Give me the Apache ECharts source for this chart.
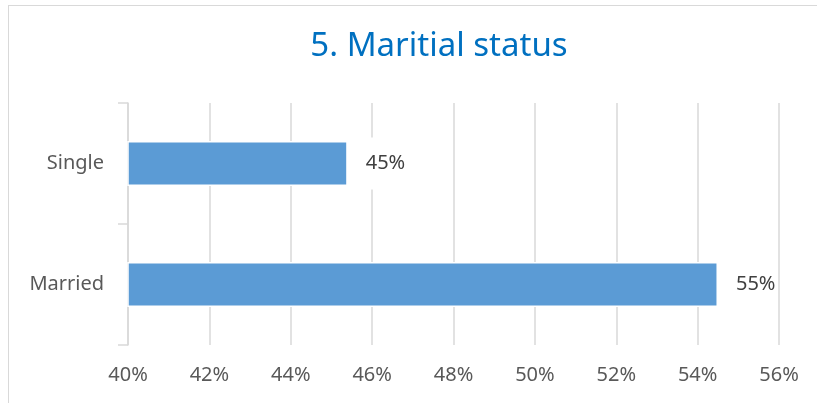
<!DOCTYPE html>
<html>
<head>
<meta charset="utf-8">
<script src="https://cdn.jsdelivr.net/npm/echarts@6/dist/echarts.min.js"></script>
<style>
  html, body { margin: 0; padding: 0; background: #fff; }
  #frame { position: absolute; left: 8px; top: 5px; width: 900px; height: 420px; border: 1px solid #d9d9d9; box-sizing: border-box; }
  #main { position: absolute; left: 0; top: 0; width: 817px; height: 403px; }
</style>
</head>
<body>
<div id="frame"></div>
<div id="main"></div>
<script>
// categories, bottom to top
var categories = ['Married', 'Single'];
var shares = [54.5, 45.4];
var axisMin = 40, axisMax = 56, axisStep = 2;

var chartDom = document.getElementById('main');
var myChart = echarts.init(chartDom);
var option;

option = {
  title: {
    text: '5. Maritial status',
    left: 434,
    top: 25,
    textAlign: 'center',
    textStyle: {
      color: '#0070c0',
      fontFamily: 'Noto Sans',
      fontSize: 33,
      fontWeight: 'normal'
    }
  },
  grid: {
    left: 128,
    right: 38,
    top: 103,
    bottom: 58
  },
  xAxis: {
    type: 'value',
    min: axisMin,
    max: axisMax,
    interval: axisStep,
    axisLine: { show: false },
    axisTick: { show: false },
    splitLine: { lineStyle: { color: '#d9d9d9', width: 1.5 } },
    axisLabel: {
      formatter: '{value}%',
      margin: 20,
      color: '#595959',
      fontFamily: 'Noto Sans',
      fontSize: 20
    }
  },
  yAxis: {
    type: 'category',
    data: categories,
    axisLine: { show: true, lineStyle: { color: '#d9d9d9', width: 1.5 } },
    axisTick: { show: true, length: 10, lineStyle: { color: '#d9d9d9', width: 1.5 } },
    axisLabel: {
      margin: 24,
      color: '#595959',
      fontFamily: 'Noto Sans',
      fontSize: 20
    }
  },
  series: [
    {
      type: 'bar',
      data: shares,
      barWidth: '37%',
      itemStyle: {
        color: '#5b9bd5',
        borderColor: '#ffffff',
        borderWidth: 1.5
      },
      label: {
        show: true,
        position: 'right',
        distance: 14,
        formatter: function (p) { return Math.round(p.value) + '%'; },
        color: '#404040',
        fontFamily: 'Noto Sans',
        fontSize: 20,
        backgroundColor: '#ffffff',
        padding: [16, 2, 16, 4]
      }
    }
  ]
};

option && myChart.setOption(option);
</script>
</body>
</html>
